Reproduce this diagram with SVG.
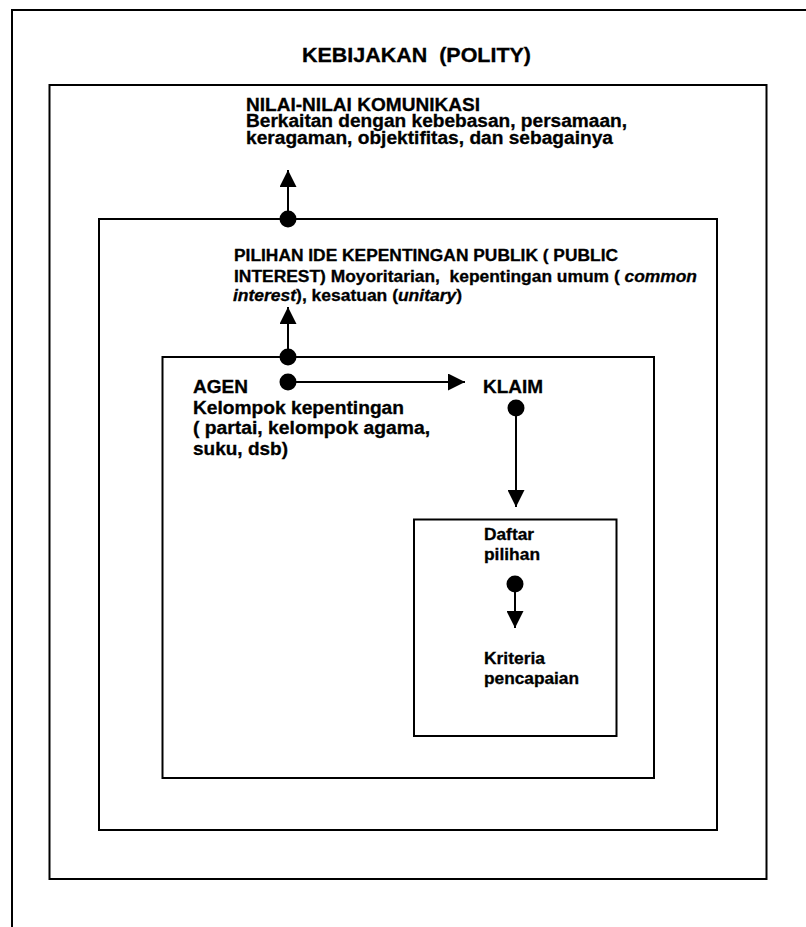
<svg xmlns="http://www.w3.org/2000/svg" width="806" height="927" viewBox="0 0 806 927">
  <style>
    .box { fill: none; stroke: #000; stroke-width: 2; }
    .t { font-family: "Liberation Sans", Arial, sans-serif; font-weight: bold; fill: #000; stroke: #000; stroke-width: 0.3; }
    .big { font-size: 18px; }
    .small { font-size: 16px; }
    .title { font-size: 19.5px; }
    .link { fill: none; stroke: #000; stroke-width: 2; }
    .dot { fill: #000; }
  </style>
  <defs>
    <marker id="arrow" viewBox="0 0 17 17" refX="17" refY="8.5" markerWidth="17" markerHeight="17" markerUnits="userSpaceOnUse" orient="auto">
      <path d="M0,0 L17,8.5 L0,17 Z" fill="#000"/>
    </marker>
  </defs>

  <rect width="806" height="927" fill="#fff"/>

  <!-- page frame, open on the right and bottom -->
  <g id="frame">
    <path class="box" d="M12,927 V10 H806"/>
  </g>

  <!-- KEBIJAKAN (POLITY) -->
  <g id="polity">
    <rect class="box" x="49.5" y="85" width="717" height="794"/>
    <text class="t title" x="302" y="62" textLength="229" lengthAdjust="spacingAndGlyphs" xml:space="preserve">KEBIJAKAN  (POLITY)</text>
  </g>

  <!-- communication values -->
  <g id="nilai">
    <text class="t big" x="246" y="110.5" textLength="234" lengthAdjust="spacingAndGlyphs">NILAI-NILAI KOMUNIKASI</text>
    <text class="t big" x="246" y="127.3" textLength="381" lengthAdjust="spacingAndGlyphs">Berkaitan dengan kebebasan, persamaan,</text>
    <text class="t big" x="246" y="144" textLength="367" lengthAdjust="spacingAndGlyphs">keragaman, objektifitas, dan sebagainya</text>
  </g>

  <!-- public interest -->
  <g id="public-interest">
    <rect class="box" x="99" y="219" width="618" height="611"/>
    <text class="t small" x="234" y="261" textLength="384" lengthAdjust="spacingAndGlyphs">PILIHAN IDE KEPENTINGAN PUBLIK ( PUBLIC</text>
    <text class="t small" x="234" y="281.5" textLength="463" lengthAdjust="spacingAndGlyphs" xml:space="preserve">INTEREST) Moyoritarian,  kepentingan umum ( <tspan font-style="italic">common</tspan></text>
    <text class="t small" x="233" y="301" textLength="229" lengthAdjust="spacingAndGlyphs"><tspan font-style="italic">interest</tspan>), kesatuan (<tspan font-style="italic">unitary</tspan>)</text>
  </g>

  <!-- agents -->
  <g id="agen">
    <rect class="box" x="162.5" y="357" width="491.5" height="421"/>
    <text class="t big" x="193" y="393" textLength="55" lengthAdjust="spacingAndGlyphs">AGEN</text>
    <text class="t big" x="193" y="413.5" textLength="211" lengthAdjust="spacingAndGlyphs">Kelompok kepentingan</text>
    <text class="t big" x="193" y="434" textLength="237" lengthAdjust="spacingAndGlyphs">( partai, kelompok agama,</text>
    <text class="t big" x="193" y="454.5" textLength="95" lengthAdjust="spacingAndGlyphs">suku, dsb)</text>
  </g>

  <!-- claims -->
  <g id="klaim">
    <text class="t big" x="483" y="393" textLength="60" lengthAdjust="spacingAndGlyphs">KLAIM</text>
  </g>

  <!-- options and criteria -->
  <g id="daftar">
    <rect class="box" x="414" y="519.5" width="202.5" height="216.5"/>
    <text class="t small" x="484" y="540" textLength="50" lengthAdjust="spacingAndGlyphs">Daftar</text>
    <text class="t small" x="484" y="560" textLength="56" lengthAdjust="spacingAndGlyphs">pilihan</text>
    <text class="t small" x="484" y="664" textLength="61" lengthAdjust="spacingAndGlyphs">Kriteria</text>
    <text class="t small" x="484" y="684" textLength="95" lengthAdjust="spacingAndGlyphs">pencapaian</text>
  </g>

  <!-- connectors -->
  <g id="connectors">
    <path class="link" d="M288,219 V170" marker-end="url(#arrow)"/>
    <path class="link" d="M288,357 V307" marker-end="url(#arrow)"/>
    <path class="link" d="M288,382 H465" marker-end="url(#arrow)"/>
    <path class="link" d="M516,408 V507" marker-end="url(#arrow)"/>
    <path class="link" d="M515,584 V628" marker-end="url(#arrow)"/>
    <circle class="dot" cx="288" cy="219" r="8.5"/>
    <circle class="dot" cx="288" cy="357" r="8.5"/>
    <circle class="dot" cx="288" cy="382" r="8.5"/>
    <circle class="dot" cx="516" cy="408" r="8.5"/>
    <circle class="dot" cx="515" cy="584" r="8.5"/>
  </g>
</svg>
